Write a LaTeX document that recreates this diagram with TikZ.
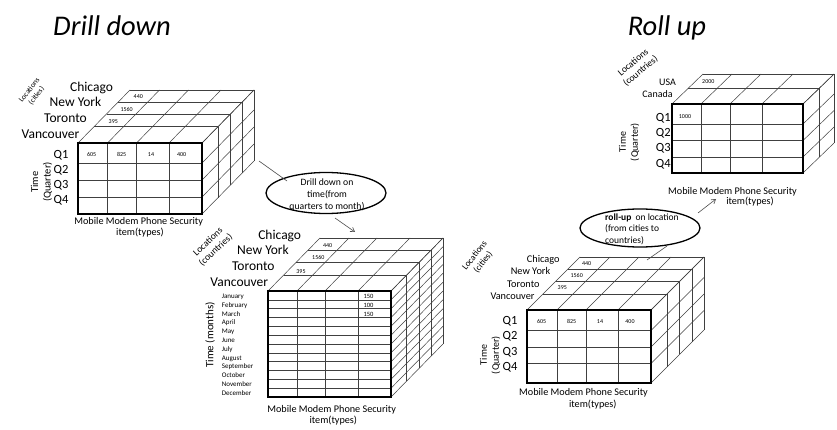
\documentclass[tikz,border=0pt]{standalone}
\usepackage{fontspec}
\setmainfont{Carlito}
\usetikzlibrary{arrows.meta,shapes.geometric}
\newcommand{\fsz}[1]{\fontsize{#1}{1.2\dimexpr #1pt\relax}\selectfont}
% #1 L, #2 T, #3 R, #4 B, #5 inner cols, #6 inner rows, #7 depth fractions, #8 dx, #9 dy
\newcommand{\cubeframe}[9]{%
  \foreach \f in {#7} \draw[gridline] ({#1+\f*(#8)},{#2+\f*(#9)}) -- ({#3+\f*(#8)},{#2+\f*(#9)});
  \foreach \c in {#1,#5,#3} \draw[gridline] (\c,#2) -- ({\c+(#8)},{#2+(#9)});
  \foreach \f in {#7} \draw[gridline] ({#3+\f*(#8)},{#2+\f*(#9)}) -- ({#3+\f*(#8)},{#4+\f*(#9)});
  \foreach \r in {#2,#6,#4} \draw[gridline] (#3,\r) -- ({#3+(#8)},{\r+(#9)});
  \foreach \c in {#5} \draw[gridline] (\c,#2) -- (\c,#4);
  \foreach \r in {#6} \draw[gridline] (#1,\r) -- (#3,\r);
  \draw[frontbox] (#1,#2) rectangle (#3,#4);
}
\begin{document}
\begin{tikzpicture}[x=1pt,y=-1pt,
  gridline/.style={draw=black!75,line width=0.5pt},
  frontbox/.style={draw=black,line width=1.3pt},
  title/.style={font=\fsz{28.5}\itshape,inner sep=0,anchor=base},
  city/.style={font=\fsz{13.5},inner sep=0,text height=9.5pt,text depth=3pt},
  smallcity/.style={font=\fsz{10.3},inner sep=0,text height=7.3pt,text depth=2.3pt},
  qlab/.style={font=\fsz{12.5},inner sep=0,text height=8.5pt,text depth=0pt},
  num/.style={font=\fsz{6},inner sep=0,text height=4.2pt,text depth=0pt},
  month/.style={font=\fsz{7},inner sep=0,anchor=west,text height=5pt,text depth=1.5pt},
  axis/.style={font=\fsz{10},inner sep=0,align=center},
  items/.style={font=\fsz{10.2},inner sep=0,text height=7.2pt,text depth=2.3pt},
  bubble/.style={draw=black,line width=1.3pt,ellipse,minimum width=120pt,minimum height=41pt,inner sep=0},
  conn/.style={draw=black!70,line width=0.6pt},
  arr/.style={conn,-{Straight Barb[length=4pt,width=5pt]}}]
\useasboundingbox (0,0) rectangle (837,430);
\fill[white] (0,0) rectangle (837,430);

% titles
\node[title] (t1) at (112,36) {Drill down};
\node[title] (t2) at (667,36) {Roll up};

% ===== cube 1 (top left)
\cubeframe{78}{143}{202}{214}{107.5,136.5,169}{163,180,197}{0.31,0.55,0.77,1}{52}{-53}
\node[city] (c1a) at (91.5,88) {Chicago};
\node[city] (c1b) at (75.5,103) {New York};
\node[city] (c1c) at (65.5,119.5) {Toronto};
\node[city] (c1d) at (50.5,135) {Vancouver};
\node[qlab] (c1q1) at (61,154.3) {Q1};
\node[qlab] (c1q2) at (61,169.3) {Q2};
\node[qlab] (c1q3) at (61,183.8) {Q3};
\node[qlab] (c1q4) at (61,198.8) {Q4};
\node[num] (c1n1) at (138.3,96.7) {440};
\node[num] (c1n2) at (126.7,109) {1560};
\node[num] (c1n3) at (113.3,121.7) {395};
\node[num] (c1v1) at (91.7,154.3) {605};
\node[num] (c1v2) at (121.7,154.3) {825};
\node[num] (c1v3) at (151,154.3) {14};
\node[num] (c1v4) at (181.7,154.3) {400};
\node[axis,rotate=90,font=\fsz{10.5}] (c1t) at (41.5,182) {Time\\(Quarter)};
\node[axis,rotate=52,font=\fsz{7.5}] (c1l) at (33,93) {Locations\\(cities)};
\node[items] (c1i) at (138.7,221.7) {Mobile Modem Phone Security};
\node[items] (c1j) at (140,233.5) {item(types)};

% ===== cube 2 (middle, months)
\cubeframe{268}{291}{391}{397}{297,325,358}{299.8,308.7,317.5,326.3,335.2,344,352.8,361.7,370.5,379.3,388.2}{0.3,0.54,0.77,1}{52}{-53}
\node[city] (c2a) at (279.7,236.5) {Chicago};
\node[city] (c2b) at (263,251.7) {New York};
\node[city] (c2c) at (253.3,267) {Toronto};
\node[city] (c2d) at (239.3,283.3) {Vancouver};
\node[num] (c2n1) at (327.7,245) {440};
\node[num] (c2n2) at (318.3,257.3) {1560};
\node[num] (c2n3) at (301,271.7) {395};
\foreach \m [count=\k from 0] in {January,February,March,April,May,June,July,August,September,October,November,December}
  \node[month] (mo\k) at (221.7,{296.7+\k*8.8}) {\m};
\node[month,font=\fsz{6.5}] (c2v1) at (363.3,296.7) {150};
\node[month,font=\fsz{6.5}] (c2v2) at (363.3,305.5) {100};
\node[month,font=\fsz{6.5}] (c2v3) at (363.3,314.3) {150};
\node[axis,rotate=90,font=\fsz{11}] (c2t) at (210,335) {Time (months)};
\node[axis,rotate=43,font=\fsz{9.5}] (c2l) at (212,246) {Locations\\(countries)};
\node[items] (c2i) at (331.7,410) {Mobile Modem Phone Security};
\node[items] (c2j) at (333.3,421) {item(types)};

% ===== cube 3 (top right, countries)
\cubeframe{672}{104}{803}{173}{701,730,762}{124,140.5,157}{0.53,1}{31}{-30}
\node[smallcity,font=\fsz{10}] (c3a) at (667.5,83.3) {USA};
\node[smallcity,font=\fsz{10}] (c3b) at (657.5,95) {Canada};
\node[num] (c3n1) at (708.3,81.7) {2000};
\node[num] (c3v1) at (685,116) {1000};
\node[qlab] (c3q1) at (663.3,117.3) {Q1};
\node[qlab] (c3q2) at (663.3,132.7) {Q2};
\node[qlab] (c3q3) at (663.3,147.3) {Q3};
\node[qlab] (c3q4) at (663.3,163.3) {Q4};
\node[axis,rotate=90] (c3t) at (629,142) {Time\\(Quarter)};
\node[axis,rotate=40,font=\fsz{9.5}] (c3l) at (637,67) {Locations\\(countries)};
\node[items] (c3i) at (732.5,191.7) {Mobile Modem Phone Security};
\node[items] (c3j) at (750,202) {item(types)};

% ===== cube 4 (bottom right, cities)
\cubeframe{527}{310}{651}{383}{557,586,618}{330.5,347,363.5}{0.3,0.54,0.77,1}{53}{-53}
\node[smallcity] (c4a) at (543.3,260) {Chicago};
\node[smallcity] (c4b) at (530.5,272.3) {New York};
\node[smallcity] (c4c) at (523.3,285) {Toronto};
\node[smallcity] (c4d) at (512.5,297.3) {Vancouver};
\node[num] (c4n1) at (586.7,263.3) {440};
\node[num] (c4n2) at (576.7,275) {1560};
\node[num] (c4n3) at (562.3,287.7) {395};
\node[qlab] (c4q1) at (510,320) {Q1};
\node[qlab] (c4q2) at (510,335) {Q2};
\node[qlab] (c4q3) at (510,351) {Q3};
\node[qlab] (c4q4) at (510,366.7) {Q4};
\node[num] (c4v1) at (541.7,321) {605};
\node[num] (c4v2) at (571.7,321) {825};
\node[num] (c4v3) at (600,321) {14};
\node[num] (c4v4) at (630,321) {400};
\node[axis,rotate=90] (c4t) at (490,355) {Time\\(Quarter)};
\node[axis,rotate=52,font=\fsz{9}] (c4l) at (479,259) {Locations\\(cities)};
\node[items] (c4i) at (583.5,393.3) {Mobile Modem Phone Security};
\node[items] (c4j) at (592.8,405) {item(types)};

% ===== bubbles
\node[bubble] (dd) at (326,193) {};
\node[font=\fsz{9.7},inner sep=0,align=center] (ddtext) at (327,195) {Drill down on\\time(from\\quarters to month)};
\node[bubble,minimum height=38pt] (ru) at (640,228) {};
\node[font=\fsz{9.5},inner sep=0,align=left,anchor=west] (rutext) at (605,229) {\textbf{roll-up}\ \ on location\\(from cities to\\countries)};

% ===== connectors
\coordinate (c1out) at (259,161);
\coordinate (ddin) at (287,181);
\coordinate (ddout) at (335,218);
\coordinate (c2in) at (355,232);
\draw[conn] (c1out) -- (ddin);
\draw[arr] (ddout) -- (c2in);
\coordinate (c4out) at (647,260);
\coordinate (ruin) at (667,246);
\coordinate (ruout) at (698,213);
\coordinate (c3in) at (716,199);
\draw[conn] (c4out) -- (ruin);
\draw[arr] (ruout) -- (c3in);
\end{tikzpicture}
\end{document}
